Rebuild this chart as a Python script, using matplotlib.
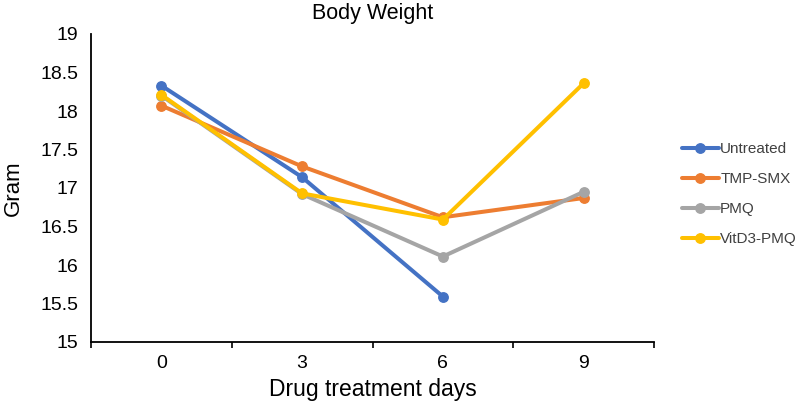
import matplotlib
matplotlib.use("Agg")
import matplotlib.pyplot as plt
from matplotlib.ticker import FixedLocator

plt.rcParams['font.family'] = ['Liberation Sans', 'DejaVu Sans']

days = ["0", "3", "6", "9"]
untreated = [18.33, 17.14, 15.59, None]
tmp_smx = [18.07, 17.28, 16.62, 16.87]
pmq = [18.20, 16.92, 16.11, 16.95]
vitd3_pmq = [18.21, 16.93, 16.59, 18.36]

series = [("Untreated", untreated, "#4472C4"),
          ("TMP-SMX", tmp_smx, "#ED7D31"),
          ("PMQ", pmq, "#A5A5A5"),
          ("VitD3-PMQ", vitd3_pmq, "#FFC000")]

fig = plt.figure(figsize=(8, 4.04), dpi=100)
ax = fig.add_axes([91/800, 62/404, 563/800, 308/404])

x = list(range(len(days)))
for name, vals, col in series:
    xs = [xi for xi, v in zip(x, vals) if v is not None]
    ys = [v for v in vals if v is not None]
    ax.plot(xs, ys, color=col, lw=2.9, marker='o', ms=6.8, label=name,
            solid_capstyle='round')

ax.set_xlim(-0.5, 3.5)
ax.set_ylim(15, 19)
ax.set_xticks(x)
ax.set_xticklabels(days, fontsize=14)
ax.xaxis.set_minor_locator(FixedLocator([-0.5, 0.5, 1.5, 2.5, 3.5]))
ax.tick_params(axis='x', which='major', length=0, pad=9)
ax.tick_params(axis='x', which='minor', length=4, width=1.2, direction='out')

yt = [15 + 0.5 * i for i in range(9)]
ax.set_yticks(yt)
ax.set_yticklabels(["%g" % v for v in yt], fontsize=14)
ax.yaxis.set_minor_locator(FixedLocator([15, 16, 17, 18, 19]))
ax.tick_params(axis='y', which='major', length=0, pad=9)
ax.tick_params(axis='y', which='minor', length=5.5, width=1.2, direction='out')

for s in ['top', 'right']:
    ax.spines[s].set_visible(False)
for s in ['left', 'bottom']:
    ax.spines[s].set_linewidth(1.3)

ax.set_xlabel("Drug treatment days", fontsize=16.5, labelpad=5)
ax.set_ylabel("Gram", fontsize=16, labelpad=12)
ax.set_title("Body Weight", fontsize=15.5, pad=11)

leg = ax.legend(loc='center left', bbox_to_anchor=(682/800, 0.52),
                bbox_transform=fig.transFigure, frameon=False, fontsize=11,
                handlelength=2.4, handletextpad=0.1, labelspacing=1.05,
                borderpad=0, borderaxespad=0)
for t in leg.get_texts():
    t.set_color("#404040")

fig.savefig("out.png", dpi=100)
